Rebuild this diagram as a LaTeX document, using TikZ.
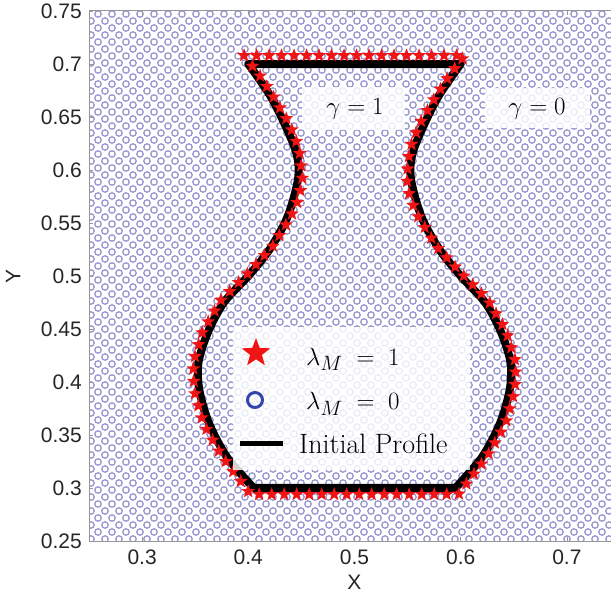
\documentclass[tikz,border=0pt]{standalone}
\usepackage{fontspec}
\setsansfont{Liberation Sans}
\usetikzlibrary{shapes.geometric,decorations.markings}
\definecolor{circcol}{RGB}{148,148,208}
\definecolor{legcirc}{RGB}{50,70,170}
\definecolor{framecol}{RGB}{150,150,150}
\definecolor{starred}{RGB}{240,20,20}
\begin{document}
\begin{tikzpicture}[x=1pt,y=1pt,
  gridcirc/.style={draw=circcol,line width=1.25pt},
  starmark/.style={star,star points=5,star point ratio=2.4,minimum size=14.5pt,inner sep=0pt,fill=starred,draw=none},
  profile/.style={draw=black,line width=8pt,line join=round},
  tick/.style={draw=framecol,line width=0.8pt},
  ticklab/.style={font=\sffamily\fontsize{21}{24}\selectfont,text=black!85,inner sep=0pt},
  whitebox/.style={fill=white,fill opacity=0.82,text opacity=1,inner sep=0pt},
  mathlab/.style={font=\fontsize{26}{30}\selectfont}]
\useasboundingbox (0,0) rectangle (611,598);
\clip (0,0) rectangle (611,598);
\fill[white] (0,0) rectangle (611,598);
% background lambda_M = 0 grid
\begin{scope}
\clip (89,57) rectangle (611,587);
\foreach \i [evaluate=\i as \off using {mod(\i,2)*7}] in {0,...,76}{
  \draw[gridcirc] \foreach \j in {0,...,38}{ ({98+14*\j-\off},{584-7*\i}) circle (3.2pt) };
}
\end{scope}
% gamma boxes
\node[whitebox,minimum width=103pt,minimum height=43pt] (g1box) at (353.5,489.5) {};
\node[mathlab] (g1) at (355,489) {$\gamma = 1$};
\node[whitebox,minimum width=105pt,minimum height=40pt] (g0box) at (537.5,490) {};
\node[mathlab] (g0) at (537,489) {$\gamma = 0$};
% data coordinates
\begin{scope}[shift={(-176.5,-208)},x=1062pt,y=1060pt]
  % frame
  \draw[framecol,line width=1pt] (0.76,0.75) -- (0.25,0.75) -- (0.25,0.25) -- (0.76,0.25);
  \foreach \v [count=\k] in {0.3,0.4,0.5,0.6,0.7}{
    \draw[tick] (\v,0.25) -- ++(0,4pt);
    \draw[tick] (\v,0.75) -- ++(0,-4pt);
    \node[ticklab,anchor=north] (xt\k) at (\v,0.2415) {\v};
  }
  \foreach \v [count=\k] in {0.25,0.3,0.35,0.4,0.45,0.5,0.55,0.6,0.65,0.7,0.75}{
    \draw[tick] (0.25,\v) -- ++(4pt,0);
    \node[ticklab,anchor=east] (yt\k) at (0.2434,\v) {\v};
  }
  \node[ticklab] (xlab) at (0.5,0.2113) {X};
  \node[ticklab,rotate=90] (ylab) at (0.1787,0.5) {Y};
  % initial profile
  \draw[profile] (0.40,0.70) -- plot[smooth] coordinates {(0.60,0.70) (0.577,0.666) (0.556,0.62) (0.553,0.593) (0.563,0.556) (0.58,0.525) (0.60,0.50) (0.623,0.475) (0.638,0.447) (0.647,0.418) (0.646,0.392) (0.637,0.361) (0.62,0.329) (0.595,0.30)}
    -- plot[smooth] coordinates {(0.405,0.30) (0.38,0.329) (0.363,0.361) (0.354,0.392) (0.353,0.418) (0.362,0.447) (0.377,0.475) (0.40,0.50) (0.42,0.525) (0.437,0.556) (0.447,0.593) (0.444,0.62) (0.423,0.666) (0.40,0.70)} -- cycle;
  % stars (lambda_M = 1) along a polyline, drawn over the profile
  \path[postaction={decorate,decoration={markings,
        mark=between positions 0 and 0.995 step 12.5pt with {\node[starmark]{};}}}]
    (0.396,0.708) -- (0.604,0.708) -- (0.589,0.689) -- (0.575,0.667) -- (0.561,0.643) -- (0.552,0.62) -- (0.549,0.593) -- (0.552,0.574) -- (0.560,0.556) -- (0.577,0.528) -- (0.600,0.503) -- (0.626,0.477) -- (0.643,0.448) -- (0.652,0.418) -- (0.651,0.392) -- (0.642,0.360) -- (0.625,0.330) -- (0.598,0.294)
    -- (0.402,0.294) -- (0.375,0.330) -- (0.358,0.360) -- (0.349,0.392) -- (0.348,0.418) -- (0.357,0.448) -- (0.374,0.477) -- (0.400,0.503) -- (0.423,0.528) -- (0.440,0.556) -- (0.448,0.574) -- (0.451,0.593) -- (0.448,0.62) -- (0.439,0.643) -- (0.425,0.667) -- (0.411,0.689) -- (0.396,0.708);
\end{scope}
% legend
\node[whitebox,minimum width=237pt,minimum height=143pt] (legend) at (351.5,199.5) {};
\node[starmark,minimum size=30pt] (legstar) at (256,245) {};
\node[circle,draw=legcirc,line width=3pt,minimum size=15pt,inner sep=0pt] (legcircle) at (255,198) {};
\coordinate (la) at (240,155);
\coordinate (lb) at (283,155);
\draw[line width=5pt] (la) -- (lb);
\node[anchor=base west,font=\fontsize{29}{32}\selectfont,inner sep=0pt] (t1) at (306,233) {$\lambda_M \;=\; 1$};
\node[anchor=base west,font=\fontsize{29}{32}\selectfont,inner sep=0pt] (t0) at (306,188) {$\lambda_M \;=\; 0$};
\node[anchor=base west,font=\fontsize{28}{32}\selectfont,inner sep=0pt] (t2) at (299,145) {Initial Profile};
\end{tikzpicture}
\end{document}
